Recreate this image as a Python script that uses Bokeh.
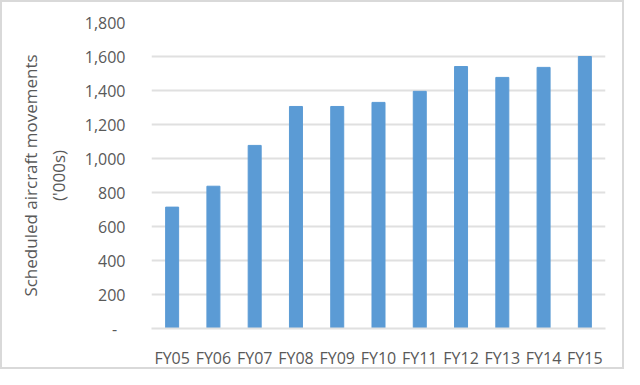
from bokeh.plotting import figure
from bokeh.models import CustomJSTickFormatter, FixedTicker, Range1d
from bokeh.embed import file_html
from bokeh.resources import INLINE

categories = ["FY05", "FY06", "FY07", "FY08", "FY09", "FY10", "FY11", "FY12", "FY13", "FY14", "FY15"]
movements = [714, 837, 1077, 1306, 1306, 1330, 1395, 1541, 1477, 1536, 1600]
y_ticks = [0, 200, 400, 600, 800, 1000, 1200, 1400, 1600, 1800]

FONT = "Open Sans"
TEXT = "#595959"
GRID = "#e0e0e0"

p = figure(x_range=categories, width=624, height=369, output_backend="svg",
           toolbar_location=None, tools="")
p.y_range = Range1d(0, 1800)
p.x_range.range_padding = 0

p.vbar(x=categories, top=movements, width=0.315, color="#5B9BD5")

p.min_border_left = 149
p.min_border_right = 21
p.min_border_top = 20
p.min_border_bottom = 42
p.outline_line_color = None
p.background_fill_color = "white"
p.border_fill_color = "white"
p.styles = {"border": "2px solid #d9d9d9", "box-sizing": "border-box"}

p.xgrid.grid_line_color = None
p.ygrid.grid_line_color = GRID
p.ygrid.grid_line_width = 2
p.ygrid.ticker = FixedTicker(ticks=y_ticks)

p.yaxis.ticker = FixedTicker(ticks=y_ticks)
p.yaxis.formatter = CustomJSTickFormatter(
    code="return tick == 0 ? '-\u00a0\u00a0' : tick.toLocaleString('en-US');")
p.yaxis.axis_line_color = None
p.yaxis.major_tick_line_color = None
p.yaxis.minor_tick_line_color = None
p.yaxis.major_label_text_font = FONT
p.yaxis.major_label_text_font_size = "16px"
p.yaxis.major_label_text_color = TEXT
p.yaxis.major_label_standoff = 20
p.yaxis.axis_label = "Scheduled aircraft movements\n('000s)"
p.yaxis.axis_label_text_font = FONT
p.yaxis.axis_label_text_font_size = "17px"
p.yaxis.axis_label_text_font_style = "normal"
p.yaxis.axis_label_text_color = TEXT
p.yaxis.axis_label_standoff = 12

p.xaxis.axis_line_color = GRID
p.xaxis.axis_line_width = 2
p.xaxis.major_tick_line_color = None
p.xaxis.minor_tick_line_color = None
p.xaxis.major_label_text_font = FONT
p.xaxis.major_label_text_font_size = "16px"
p.xaxis.major_label_text_color = TEXT
p.xaxis.major_label_standoff = 12

open("out.html", "w").write(file_html(p, INLINE))
